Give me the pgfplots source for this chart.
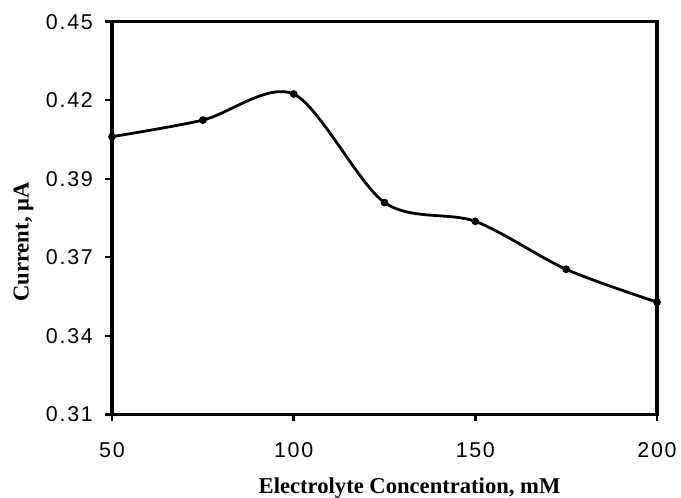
\documentclass[border=0pt]{standalone}
\usepackage{fontspec}
\setmainfont{Liberation Serif}
\newfontfamily\tickfont[LetterSpace=8]{Liberation Sans}
\usepackage{pgfplots}
\pgfplotsset{compat=1.18}
\begin{document}
\begin{tikzpicture}
\begin{axis}[
  scale only axis,
  width=545bp, height=392.6bp,
  xmin=50, xmax=200, ymin=0.31, ymax=0.45,
  xtick={50,100,150,200},
  xticklabels={50,100,150,200},
  ytick={0.31,0.338,0.366,0.394,0.422,0.45},
  yticklabels={0.31,0.34,0.37,0.39,0.42,0.45},
  axis line style={line width=3.2bp},
  tick style={line width=2.4bp, black},
  major tick length=7bp,
  tick align=outside,
  xtick pos=bottom, ytick pos=left,
  ticklabel style={font=\tickfont\fontsize{21.5}{24}\selectfont},
  xticklabel style={inner sep=0pt, anchor=north, yshift=-21bp},
  yticklabel style={inner sep=0pt, anchor=east, xshift=-12bp},
  xlabel={Electrolyte Concentration, mM},
  ylabel={Current, \textmu A},
  label style={font=\bfseries\fontsize{22.7}{26}\selectfont, inner sep=0pt},
  xlabel style={at={(axis description cs:0.546,0)}, anchor=base, yshift=-78.7bp},
  ylabel style={at={(axis description cs:0,0.439)}, anchor=center, yshift=88.5bp},
  clip=false,
]
\addplot[black, line width=2.8bp, smooth, mark=*, mark size=2.4bp]
  coordinates {(50,0.4090) (75,0.4149) (100,0.4242) (125,0.3855) (150,0.3788) (175,0.3617) (200,0.3500)};
\end{axis}
\path ([xshift=-112bp,yshift=-81.7bp]current axis.south west) rectangle ([xshift=24bp,yshift=21.7bp]current axis.north east);
\end{tikzpicture}
\end{document}
